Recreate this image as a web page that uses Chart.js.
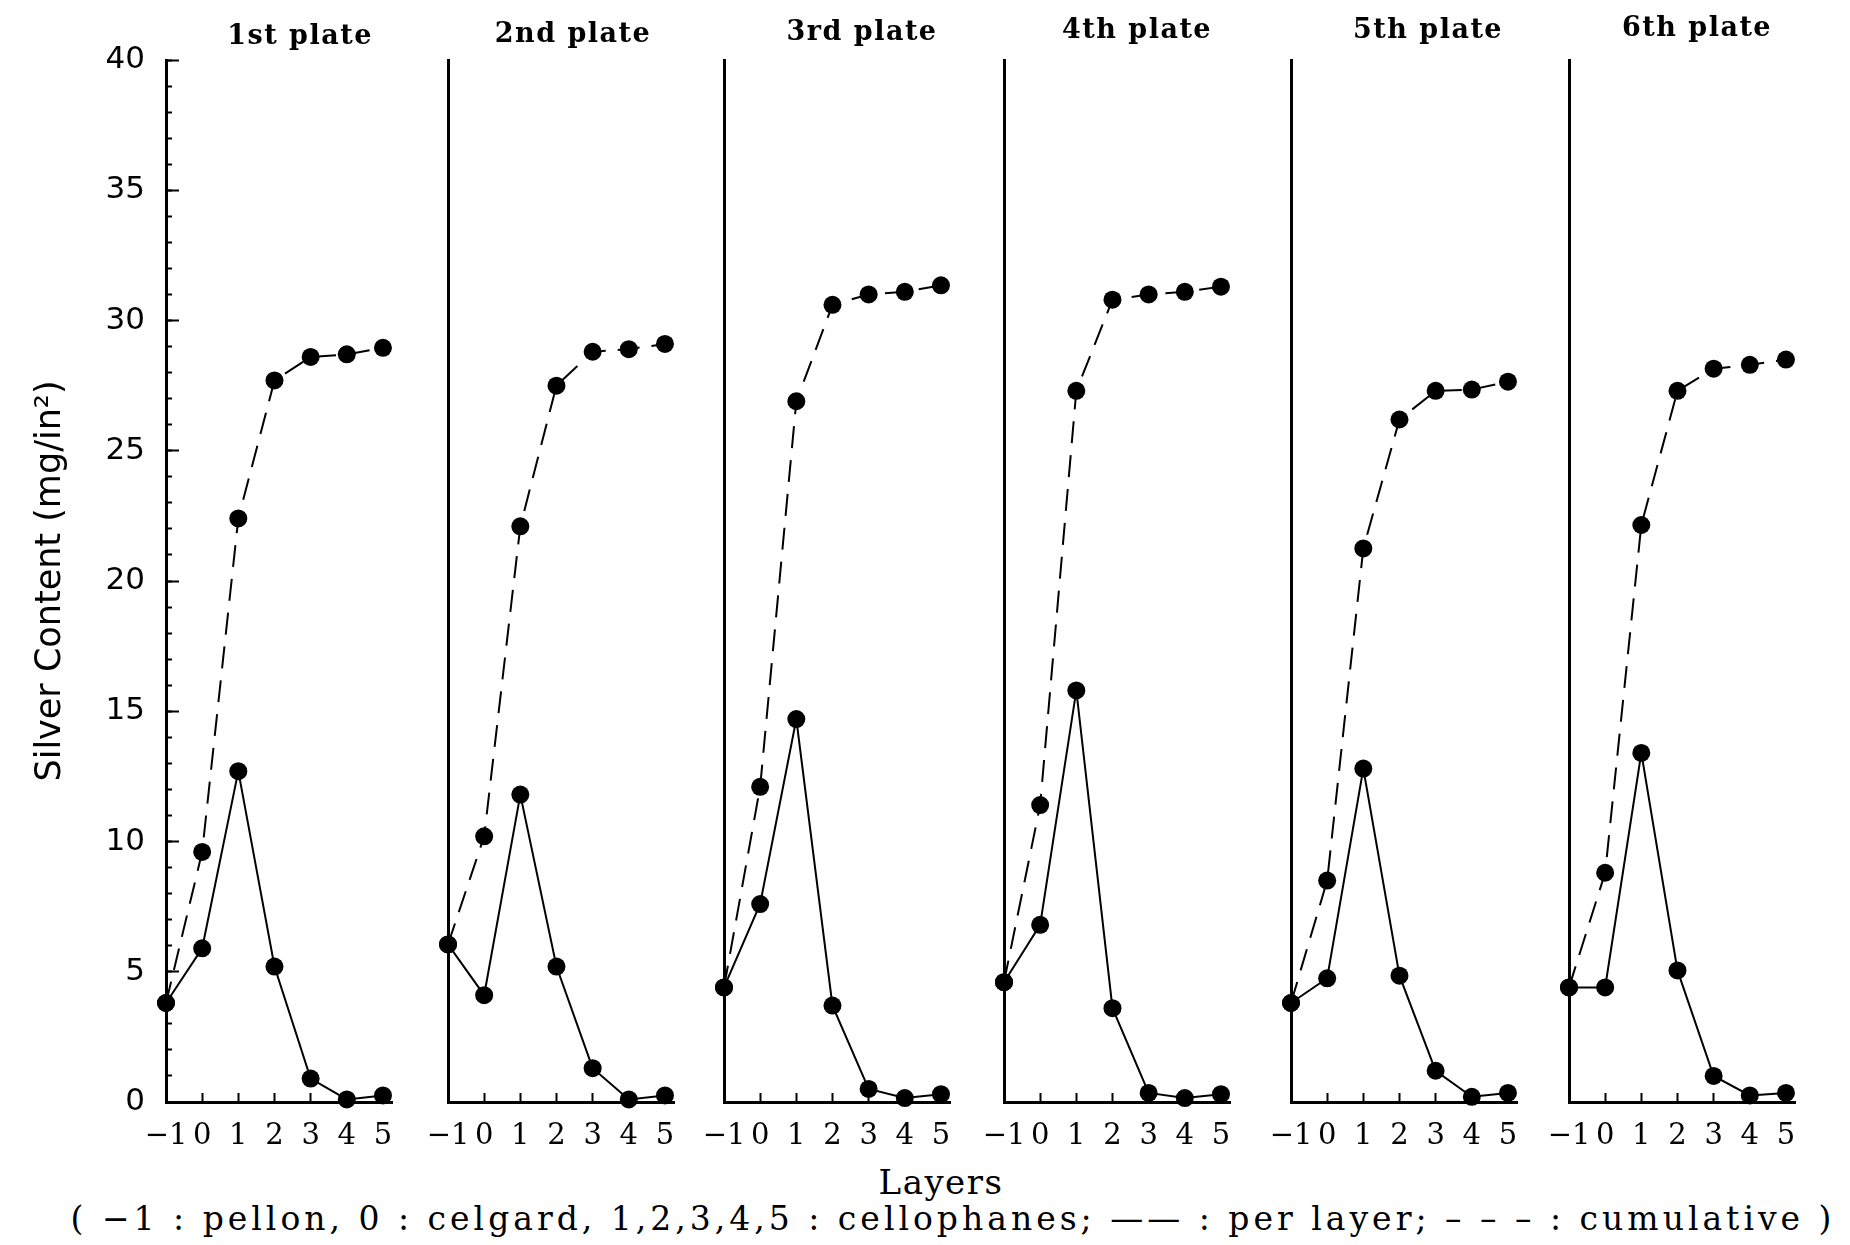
<!DOCTYPE html>
<html>
<head>
<meta charset="utf-8">
<title>Silver Content per Layer</title>
<script src="https://cdn.jsdelivr.net/npm/chart.js@4.4.1/dist/chart.umd.min.js"></script>
<style>
  body { margin: 0; background: #fff; }
  #wrap { position: relative; width: 1850px; height: 1245px; overflow: hidden; background: #fff; }
  #wrap canvas { position: absolute; top: 0; }
  .plate { position: absolute; font: bold 27px "DejaVu Serif"; letter-spacing: 1.5px; color: #000;
           transform: translate(-50%, -50%); white-space: nowrap; }
  #xTitle { position: absolute; left: 941px; top: 1182px; transform: translate(-50%, -50%);
            font: 34px "DejaVu Serif"; letter-spacing: 1.5px; color: #000; }
  #note { position: absolute; left: 953px; top: 1218px; transform: translate(-50%, -50%);
          font: 33px "DejaVu Serif"; letter-spacing: 4px; white-space: pre; color: #000; }
</style>
</head>
<body>
<div id="wrap">
  <div id="xTitle">Layers</div>
  <div id="note">( −1 : pellon, 0 : celgard, 1,2,3,4,5 : cellophanes; —— : per layer; – – – : cumulative )</div>
</div>
<script>
// layers: -1 pellon, 0 celgard, 1..5 cellophanes
const layers = [-1, 0, 1, 2, 3, 4, 5];
const plates = ['1st plate', '2nd plate', '3rd plate', '4th plate', '5th plate', '6th plate'];
const yTicks = [0, 5, 10, 15, 20, 25, 30, 35, 40];

// silver content per layer (mg/in^2)
const perLayer1 = [3.8, 5.9, 12.7, 5.2, 0.9, 0.1, 0.25];
const perLayer2 = [6.05, 4.1, 11.8, 5.2, 1.3, 0.1, 0.25];
const perLayer3 = [4.4, 7.6, 14.7, 3.7, 0.5, 0.15, 0.3];
const perLayer4 = [4.6, 6.8, 15.8, 3.6, 0.35, 0.15, 0.3];
const perLayer5 = [3.8, 4.75, 12.8, 4.85, 1.2, 0.2, 0.35];
const perLayer6 = [4.4, 4.4, 13.4, 5.05, 1.0, 0.25, 0.35];

// cumulative silver content (mg/in^2)
const cumulative1 = [3.8, 9.6, 22.4, 27.7, 28.6, 28.7, 28.95];
const cumulative2 = [6.05, 10.2, 22.1, 27.5, 28.8, 28.9, 29.1];
const cumulative3 = [4.4, 12.1, 26.9, 30.6, 31.0, 31.1, 31.35];
const cumulative4 = [4.6, 11.4, 27.3, 30.8, 31.0, 31.1, 31.3];
const cumulative5 = [3.8, 8.5, 21.25, 26.2, 27.3, 27.35, 27.65];
const cumulative6 = [4.4, 8.8, 22.15, 27.3, 28.15, 28.3, 28.5];

const perLayer = [perLayer1, perLayer2, perLayer3, perLayer4, perLayer5, perLayer6];
const cumulative = [cumulative1, cumulative2, cumulative3, cumulative4, cumulative5, cumulative6];

// panel placement: left edge of each plot area and where its title sits
const axisLeft = [166, 448, 724, 1004, 1291, 1569];
const titlePos = [[300, 34], [573, 32], [862, 30], [1137, 28], [1428, 28], [1697, 26]];
const plotW = 229;
const plotTop = 60;
const canvasH = 1160;
const xAxisH = 58;

const wrap = document.getElementById('wrap');
const minorTicks = Array.from({ length: 41 }, (_, k) => ({ value: k }));

const points = (vals) => layers.map((x, k) => ({ x: x, y: vals[k] }));

function makePanel(i) {
  const first = i === 0;
  const leftW = first ? 166 : 40;
  const padR = 6;

  const canvas = document.createElement('canvas');
  canvas.width = leftW + plotW + padR;
  canvas.height = canvasH;
  canvas.style.left = (axisLeft[i] - leftW) + 'px';
  wrap.appendChild(canvas);

  const t = document.createElement('div');
  t.className = 'plate';
  t.textContent = plates[i];
  t.style.left = titlePos[i][0] + 'px';
  t.style.top = titlePos[i][1] + 'px';
  wrap.appendChild(t);

  const yAxis = {
    type: 'linear', position: 'left', min: 0, max: 40, weight: 1,
    afterBuildTicks: (s) => { s.ticks = yTicks.map((v) => ({ value: v })); },
    ticks: { display: first, color: '#000', padding: 34, font: { family: 'DejaVu Sans', size: 31 } },
    grid: { drawOnChartArea: false, drawTicks: first, tickLength: -13, tickWidth: 2, color: '#000' },
    border: { display: true, width: 3, color: '#000' },
    title: {
      display: first, text: 'Silver Content (mg/in²)', color: '#000',
      font: { family: 'DejaVu Sans', size: 35 }, padding: { top: 30, bottom: 0 }
    },
    afterFit: (s) => { s.width = leftW; s.paddingTop = 0; s.paddingBottom = 0; }
  };

  const scales = {
    x: {
      type: 'linear', min: -1, max: 5.25,
      afterBuildTicks: (s) => { s.ticks = layers.map((v) => ({ value: v })); },
      ticks: {
        color: '#000', padding: 26, autoSkip: false, maxRotation: 0, minRotation: 0,
        font: { family: 'DejaVu Serif', size: 29 },
        callback: (v) => (v < 0 ? '−' + Math.abs(v) : String(v))
      },
      grid: { drawOnChartArea: false, tickLength: -9, tickWidth: 2, color: '#000' },
      border: { width: 3, color: '#000' },
      afterFit: (s) => { s.height = xAxisH; s.paddingLeft = 0; s.paddingRight = 0; }
    },
    y: yAxis
  };

  if (first) {
    // unlabeled unit ticks on the value axis
    scales.yMinor = {
      type: 'linear', position: 'left', min: 0, max: 40, weight: 0,
      afterBuildTicks: (s) => { s.ticks = minorTicks.slice(); },
      ticks: { display: false },
      grid: { drawOnChartArea: false, tickLength: -6, tickWidth: 2, color: '#000' },
      border: { display: false },
      afterFit: (s) => { s.width = 0; s.paddingTop = 0; s.paddingBottom = 0; }
    };
  }

  new Chart(canvas, {
    type: 'line',
    data: {
      datasets: [
        {
          label: 'per layer', data: points(perLayer[i]),
          borderColor: '#000', borderWidth: 2, tension: 0,
          pointRadius: 9, pointBackgroundColor: '#000', pointBorderWidth: 0, clip: false
        },
        {
          label: 'cumulative', data: points(cumulative[i]),
          borderColor: '#000', borderWidth: 2, borderDash: [22, 12], tension: 0,
          pointRadius: 9, pointBackgroundColor: '#000', pointBorderWidth: 0, clip: false
        }
      ]
    },
    options: {
      responsive: false,
      animation: false,
      layout: { padding: { top: plotTop, right: padR, bottom: 0, left: 0 } },
      plugins: { legend: { display: false }, tooltip: { enabled: false }, title: { display: false } },
      scales: scales
    }
  });
}

plates.forEach((_, i) => makePanel(i));
</script>
</body>
</html>
